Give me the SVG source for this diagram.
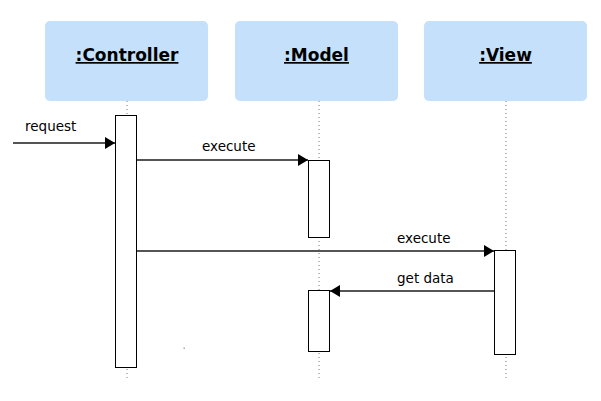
<svg xmlns="http://www.w3.org/2000/svg" width="601" height="401" viewBox="0 0 601 401">
<style>
.head{fill:#c4e0fb;stroke:none}
.title{font-family:"DejaVu Sans",Verdana,sans-serif;font-weight:bold;font-size:17px;text-anchor:middle;text-decoration:underline;fill:#000}
.life{stroke:#999;stroke-width:1.3;stroke-dasharray:1 3;fill:none}
.act{fill:#fff;stroke:#000;stroke-width:1}
.msg{stroke:#555;stroke-width:2;fill:none}
.lbl{font-family:"DejaVu Sans",Verdana,sans-serif;font-size:13.5px;fill:#000}
</style>
<defs>
<marker id="arr" markerWidth="11" markerHeight="13" refX="10" refY="6" orient="auto" markerUnits="userSpaceOnUse">
<path d="M0,0 L10,6 L0,12 Z" fill="#000"/>
</marker>
</defs>
<rect width="601" height="401" fill="#fff"/>
<g id="controller">
<rect class="head" x="45" y="21" width="163" height="80" rx="5"/>
<text class="title" x="127" y="61">:Controller</text>
<line class="life" x1="127" y1="101" x2="127" y2="380"/>
<rect class="act" x="115.5" y="115.5" width="21" height="252"/>
</g>
<g id="model">
<rect class="head" x="235" y="21" width="163" height="80" rx="5"/>
<text class="title" x="316.5" y="61">:Model</text>
<line class="life" x1="319" y1="101" x2="319" y2="378"/>
<rect class="act" x="308.5" y="160.5" width="21" height="77"/>
<rect class="act" x="308.5" y="290.5" width="21" height="61"/>
</g>
<g id="view">
<rect class="head" x="424" y="21" width="163" height="80" rx="5"/>
<text class="title" x="505.5" y="61">:View</text>
<line class="life" x1="506" y1="101" x2="506" y2="378"/>
<rect class="act" x="494.5" y="250.5" width="21" height="104"/>
</g>
<g id="connectors">
<line class="msg" x1="13" y1="143" x2="115" y2="143" marker-end="url(#arr)"/>
<text class="lbl" x="25" y="131">request</text>
<line class="msg" x1="137" y1="160" x2="308" y2="160" marker-end="url(#arr)"/>
<text class="lbl" x="202" y="151">execute</text>
<line class="msg" x1="137" y1="251" x2="494" y2="251" marker-end="url(#arr)"/>
<text class="lbl" x="397" y="243">execute</text>
<line class="msg" x1="494" y1="291" x2="330" y2="291" marker-end="url(#arr)"/>
<text class="lbl" x="397" y="283">get data</text>
</g>
<rect x="183.5" y="347.5" width="1.5" height="1.5" fill="#aaa"/>
</svg>
